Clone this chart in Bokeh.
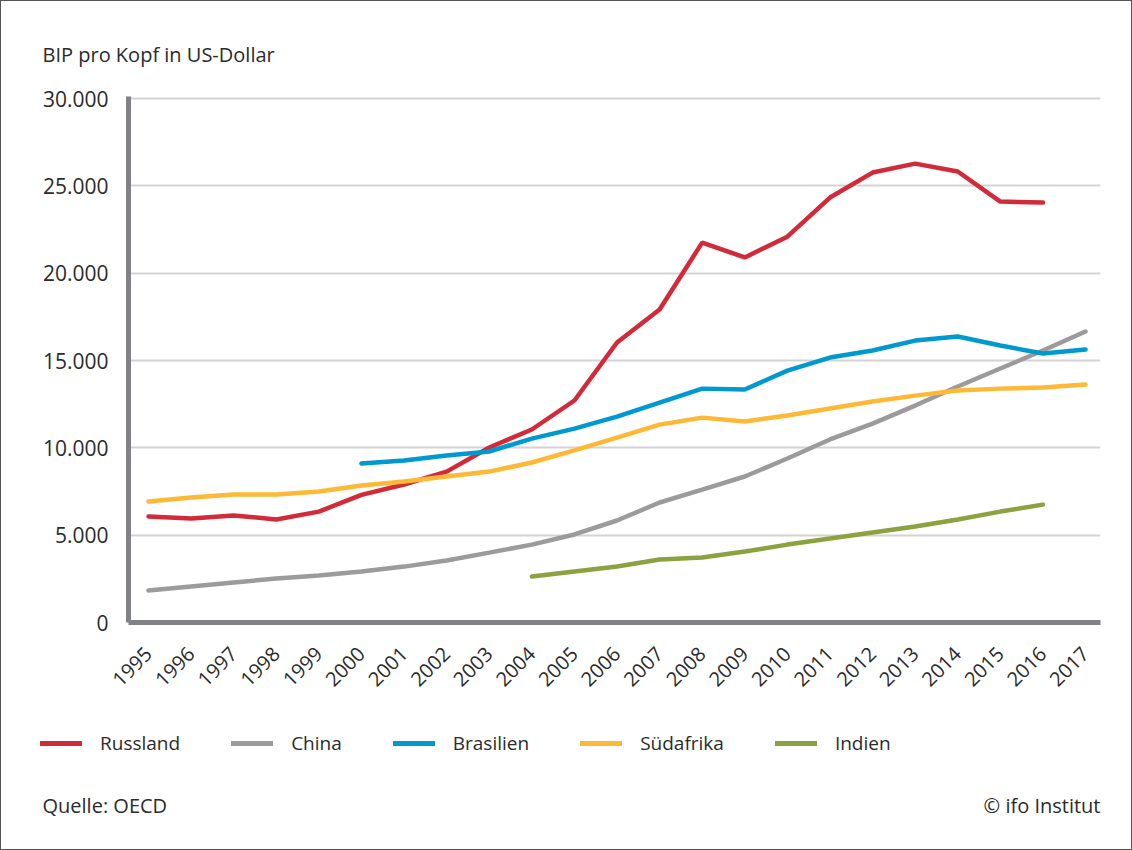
from math import pi
from bokeh.plotting import figure
from bokeh.layouts import column
from bokeh.models import FixedTicker, Legend, LegendItem, Range1d, Title, Label
from bokeh.embed import file_html
from bokeh.resources import INLINE

years = list(range(1995, 2018))

russland_years = list(range(1995, 2017))
russland = [6070, 5950, 6130, 5900, 6350, 7310, 7900, 8640, 10020, 11050, 12710,
            16030, 17920, 21750, 20900, 22090, 24330, 25760, 26270, 25820, 24100, 24040]

china_years = list(range(1995, 2018))
china = [1830, 2060, 2290, 2520, 2690, 2920, 3200, 3550, 4000, 4460, 5040, 5840,
         6870, 7610, 8360, 9390, 10480, 11390, 12420, 13510, 14540, 15570, 16660]

brasilien_years = list(range(2000, 2018))
brasilien = [9100, 9270, 9560, 9790, 10530, 11100, 11790, 12590, 13390, 13340,
             14420, 15170, 15570, 16140, 16370, 15860, 15400, 15630]

suedafrika_years = list(range(1995, 2018))
suedafrika = [6930, 7160, 7330, 7330, 7500, 7840, 8070, 8360, 8640, 9160, 9850,
              10590, 11330, 11730, 11510, 11850, 12250, 12650, 12990, 13280, 13390,
              13450, 13620]

indien_years = list(range(2004, 2017))
indien = [2630, 2920, 3210, 3610, 3720, 4060, 4460, 4810, 5150, 5500, 5900, 6350, 6750]

y_ticks = [0, 5000, 10000, 15000, 20000, 25000, 30000]
y_tick_labels = ["0", "5.000", "10.000", "15.000", "20.000", "25.000", "30.000"]

series = [
    ("Russland", russland_years, russland, "#d22a38"),
    ("China", china_years, china, "#9b9b9e"),
    ("Brasilien", brasilien_years, brasilien, "#0099cf"),
    ("Südafrika", suedafrika_years, suedafrika, "#fdb935"),
    ("Indien", indien_years, indien, "#8ca23f"),
]

title_text = "BIP pro Kopf in US-Dollar"
source_text = "Quelle: OECD"
credit_text = "© ifo Institut"

FONT = "Open Sans"
TXT = "#2b2b2b"
LW = 4.5

# ---------------- main chart ----------------
p = figure(width=1130, height=700, output_backend="svg", toolbar_location=None,
           x_range=Range1d(1994.53, 2017.352), y_range=Range1d(0, 30115),
           min_border_left=127, min_border_right=31, min_border_top=95,
           min_border_bottom=79)
p.outline_line_color = None
p.background_fill_color = "white"
p.border_fill_color = "white"

for name, xs, ys, col in series:
    p.line(xs, ys, line_color=col, line_width=LW, line_cap="round")

p.xgrid.grid_line_color = None
p.ygrid.grid_line_color = "#d3d3d3"
p.ygrid.grid_line_width = 2
p.ygrid.ticker = FixedTicker(ticks=y_ticks)

p.yaxis.ticker = FixedTicker(ticks=y_ticks)
p.yaxis.major_label_overrides = {t: l for t, l in zip(y_ticks, y_tick_labels)}
p.xaxis.ticker = FixedTicker(ticks=years)
p.xaxis.major_label_overrides = {y: str(y) for y in years}
p.xaxis.major_label_orientation = pi / 4

for ax in (p.xaxis, p.yaxis):
    ax.axis_line_color = "#808285"
    ax.axis_line_width = 5
    ax.major_tick_line_color = None
    ax.minor_tick_line_color = None
    ax.major_tick_out = 0
    ax.major_tick_in = 0
    ax.major_label_text_font = FONT
    ax.major_label_text_color = TXT
p.yaxis.major_label_text_font_size = "21px"
p.xaxis.major_label_text_font_size = "20px"
p.yaxis.major_label_standoff = 20
p.xaxis.major_label_standoff = 28

p.add_layout(Title(text=title_text, align="left", offset=-86, standoff=58,
                   text_font=FONT, text_font_size="20px", text_font_style="normal",
                   text_color=TXT), "above")

# ---------------- legend + footer strip ----------------
FH = 148
f = figure(width=1130, height=FH, output_backend="svg", toolbar_location=None,
           x_range=Range1d(0, 1130), y_range=Range1d(0, FH),
           min_border_left=0, min_border_right=0, min_border_top=0,
           min_border_bottom=0)
f.axis.visible = False
f.grid.visible = False
f.outline_line_color = None
f.background_fill_color = "white"
f.border_fill_color = "white"
p.frame_align = False
f.frame_align = False

# legend swatches: same series, lying outside this strip's visible ranges
items = []
for name, xs, ys, col in series:
    r = f.line(xs, ys, line_color=col, line_width=LW + 0.5, line_cap="round")
    items.append(LegendItem(label=name, renderers=[r]))

legend = Legend(items=items, orientation="horizontal", location=(39, 93),
                glyph_width=42, glyph_height=20, label_height=20,
                label_standoff=18, spacing=51, padding=0, margin=0,
                border_line_color=None, background_fill_alpha=0,
                label_text_font=FONT, label_text_font_size="19px",
                label_text_color=TXT)
f.add_layout(legend, "center")

f.add_layout(Label(x=41, y=44, x_units="screen", y_units="screen",
                   text=source_text, text_font=FONT, text_font_size="20px",
                   text_color=TXT, text_baseline="middle"))
f.add_layout(Label(x=1099, y=44, x_units="screen", y_units="screen",
                   text=credit_text, text_font=FONT, text_font_size="20px",
                   text_color=TXT, text_baseline="middle", text_align="right"))

layout = column(p, f, spacing=0, styles={"border": "1px solid #555555"})

open("out.html", "w").write(file_html(layout, INLINE))
